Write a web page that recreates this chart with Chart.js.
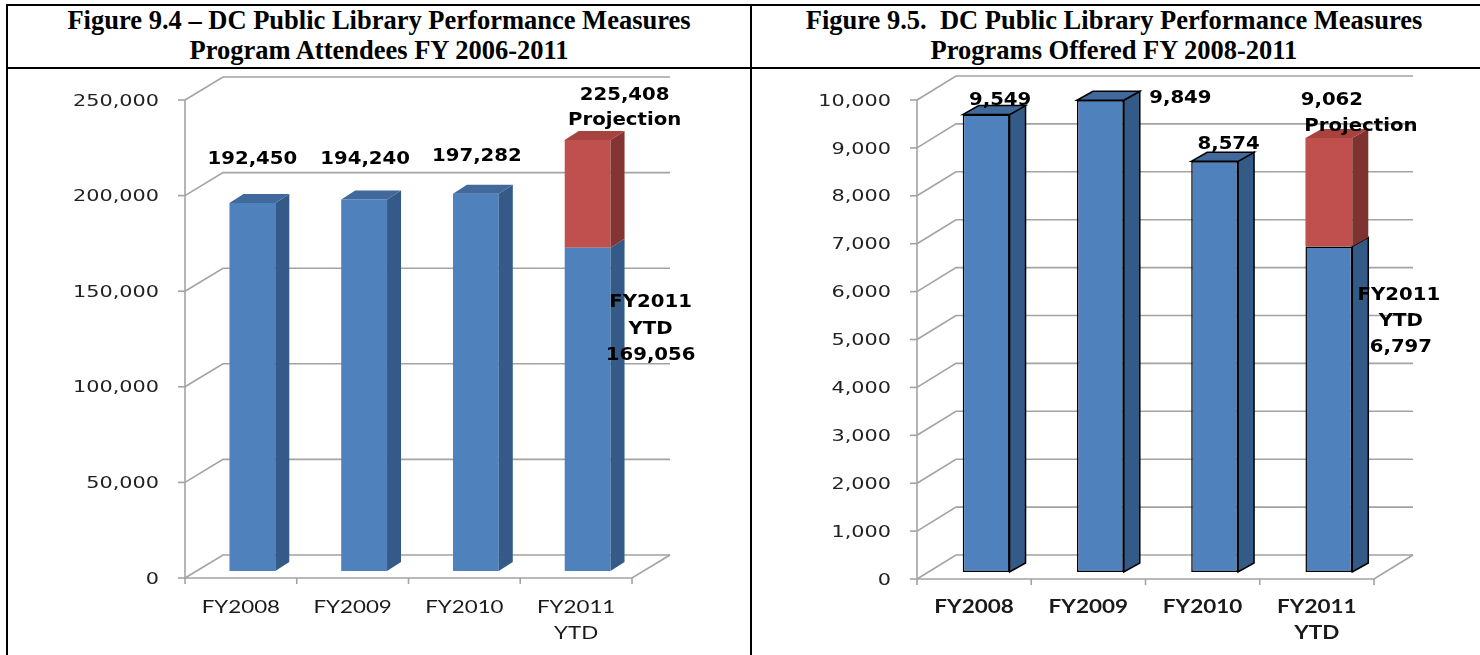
<!DOCTYPE html>
<html><head><meta charset="utf-8">
<script src="https://cdn.jsdelivr.net/npm/chart.js@4"></script>
<style>
html,body{margin:0;padding:0;background:#fff;width:1480px;height:655px;overflow:hidden;position:relative}
.ln{position:absolute;background:#000}
.title{position:absolute;top:5px;height:60px;font-family:'Liberation Serif','Times New Roman',serif;font-weight:bold;font-size:26.5px;line-height:30px;text-align:center;color:#000;white-space:nowrap}
canvas{position:absolute}
</style></head><body>
<div class="ln" style="left:6px;top:4px;width:1474px;height:2px"></div>
<div class="ln" style="left:6px;top:67px;width:1474px;height:2px"></div>
<div class="ln" style="left:6px;top:4px;width:2px;height:651px"></div>
<div class="ln" style="left:750px;top:4px;width:2px;height:651px"></div>
<div class="title" style="left:8px;width:742px">Figure 9.4 – DC Public Library Performance Measures<br>Program Attendees FY 2006-2011</div>
<div class="title" style="left:752px;width:724px">Figure 9.5.&nbsp; DC Public Library Performance Measures<br>Programs Offered FY 2008-2011</div>
<canvas id="c1" width="742" height="586" style="left:8px;top:69px"></canvas>
<canvas id="c2" width="728" height="586" style="left:752px;top:69px"></canvas>
<script>
// ---- data ----
const categories = [['FY2008'], ['FY2009'], ['FY2010'], ['FY2011', 'YTD']];
const attendeesActual = [192450, 194240, 197282, 169056];
const attendeesProjection = [null, null, null, 225408];
const attendeesTicks = [0, 50000, 100000, 150000, 200000, 250000];
const programsActual = [9549, 9849, 8574, 6797];
const programsProjection = [null, null, null, 9062];
const programsTicks = [0, 1000, 2000, 3000, 4000, 5000, 6000, 7000, 8000, 9000, 10000];
const projectionWord = 'Projection';

const fmt = v => v.toLocaleString('en-US');

function stretchText(ctx, s, x, y, font, sx, align, color) {
  ctx.save();
  ctx.translate(x, y);
  ctx.scale(sx, 1);
  ctx.font = font;
  ctx.textAlign = align;
  ctx.textBaseline = 'middle';
  ctx.fillStyle = color;
  ctx.fillText(s, 0, 0);
  ctx.restore();
}

function threeD(st) {
  return {
    id: 'threeD',
    beforeDatasetsDraw(chart) {
      const ctx = chart.ctx, xs = chart.scales.x, ys = chart.scales.y, a = chart.chartArea;
      const W = st.wall;
      ctx.save();
      ctx.strokeStyle = '#a3a3a3';
      ctx.lineWidth = 1.6;
      ctx.lineCap = 'butt';
      st.ticks.forEach(v => {
        const py = ys.getPixelForValue(v);
        ctx.beginPath();
        ctx.moveTo(a.left, py);
        ctx.lineTo(a.left + W.dx, py + W.dy);
        ctx.lineTo(a.right + W.dx, py + W.dy);
        ctx.stroke();
        ctx.beginPath();
        ctx.moveTo(a.left - 7, py);
        ctx.lineTo(a.left, py);
        ctx.stroke();
      });
      const yTop = ys.getPixelForValue(st.ticks[st.ticks.length - 1]);
      const y0 = ys.getPixelForValue(0);
      ctx.beginPath();
      ctx.moveTo(a.left, yTop);
      ctx.lineTo(a.left, y0);
      ctx.stroke();
      ctx.beginPath();
      ctx.moveTo(a.left, y0);
      ctx.lineTo(a.right, y0);
      ctx.lineTo(a.right + W.dx, y0 + W.dy);
      ctx.stroke();
      const n = chart.data.labels.length;
      const half = (xs.getPixelForValue(1) - xs.getPixelForValue(0)) / 2;
      for (let i = 0; i <= n; i++) {
        const px = i < n ? xs.getPixelForValue(i) - half : xs.getPixelForValue(n - 1) + half;
        ctx.beginPath();
        ctx.moveTo(px, y0);
        ctx.lineTo(px, y0 + 6);
        ctx.stroke();
      }
      ctx.restore();
      // y tick labels
      st.ticks.forEach(v => {
        stretchText(ctx, fmt(v), a.left - 26, ys.getPixelForValue(v) + 1.5, st.tickFont, st.tickSX, 'right', '#222');
      });
      // x labels
      chart.data.labels.forEach((lab, i) => {
        const px = xs.getPixelForValue(i);
        lab.forEach((s, j) => {
          stretchText(ctx, s, px, y0 + st.xLabelY + j * 26, st.xFont, st.xSX, 'center', '#1a1a1a');
        });
      });
      ctx.save();
      ctx.translate(st.barOff.dx, st.barOff.dy);
    },
    afterDatasetsDraw(chart) {
      const ctx = chart.ctx;
      const S = st.side;
      const metas = chart.data.datasets.map((d, k) => chart.getDatasetMeta(k));
      const n = chart.data.labels.length;
      for (let i = 0; i < n; i++) {
        let topMost = null;
        metas.forEach((m, k) => {
          const raw = chart.data.datasets[k].data[i];
          if (raw === null || raw === undefined) return;
          const el = m.data[i];
          const top = Math.min(el.y, el.base), bot = Math.max(el.y, el.base);
          const right = el.x + el.width / 2;
          ctx.beginPath();
          ctx.moveTo(right, top);
          ctx.lineTo(right + S.dx, top + S.dy);
          ctx.lineTo(right + S.dx, bot + S.dy);
          ctx.lineTo(right, bot);
          ctx.closePath();
          ctx.fillStyle = st.sideColors[k];
          ctx.fill();
          if (st.outline[k]) { ctx.strokeStyle = '#000'; ctx.lineWidth = 1.5; ctx.stroke(); }
          if (!topMost || top < topMost.top) topMost = {el, top, k};
        });
        if (topMost) {
          const el = topMost.el, top = topMost.top;
          const left = el.x - el.width / 2, right = el.x + el.width / 2;
          ctx.beginPath();
          ctx.moveTo(left, top);
          ctx.lineTo(left + S.dx, top + S.dy);
          ctx.lineTo(right + S.dx, top + S.dy);
          ctx.lineTo(right, top);
          ctx.closePath();
          ctx.fillStyle = st.topColors[topMost.k];
          ctx.fill();
          if (st.outline[topMost.k]) { ctx.strokeStyle = '#000'; ctx.lineWidth = 1.5; ctx.stroke(); }
        }
      }
      // data labels
      st.labels.forEach(L => {
        const el = metas[L.ds].data[L.i];
        const top = Math.min(el.y, el.base);
        L.lines.forEach((s, j) => {
          const o = L.off[j];
          stretchText(ctx, s, el.x + o[0], top + o[1] + 2.5, st.labelFont, st.labelSX, 'center', '#000');
        });
      });
      ctx.restore();
    }
  };
}

function build(id, actual, projection, ticks, padding, st) {
  st.ticks = ticks;
  return new Chart(document.getElementById(id), {
    type: 'bar',
    data: {
      labels: categories,
      datasets: [
        {
          data: actual,
          backgroundColor: '#4f81bd',
          borderColor: '#000',
          borderWidth: st.outline[0] ? 1.5 : 0,
          borderSkipped: false,
          grouped: false,
          barPercentage: 0.41,
          categoryPercentage: 1,
          clip: false
        },
        {
          data: projection.map((p, i) => p === null ? null : [actual[i], p]),
          backgroundColor: '#c0504d',
          borderWidth: 0,
          grouped: false,
          barPercentage: 0.41,
          categoryPercentage: 1,
          clip: false
        }
      ]
    },
    options: {
      responsive: false,
      animation: false,
      devicePixelRatio: 1,
      layout: {padding},
      plugins: {legend: {display: false}, tooltip: {enabled: false}},
      scales: {
        x: {display: false},
        y: {display: false, min: 0, max: ticks[ticks.length - 1]}
      }
    },
    plugins: [threeD(st)]
  });
}

const lastIdx = categories.length - 1;

build('c1', attendeesActual, attendeesProjection, attendeesTicks,
  {left: 177, right: 118, top: 31, bottom: 77},
  {
    wall: {dx: 38, dy: -23}, barOff: {dx: 11.5, dy: -7}, side: {dx: 14, dy: -9},
    sideColors: ['#345a88', '#843533'], topColors: ['#41699c', '#a7423f'], outline: [false, false],
    tickFont: '16px "DejaVu Sans"', tickSX: 1.3,
    xFont: '18px Lato', xSX: 1.24, xLabelY: 29,
    labelFont: 'bold 17px "DejaVu Sans"', labelSX: 1.16,
    labels: [
      {ds: 0, i: 0, lines: [fmt(attendeesActual[0])], off: [[0, -46]]},
      {ds: 0, i: 1, lines: [fmt(attendeesActual[1])], off: [[1, -43]]},
      {ds: 0, i: 2, lines: [fmt(attendeesActual[2])], off: [[1, -40]]},
      {ds: 1, i: lastIdx, lines: [fmt(attendeesProjection[lastIdx]), projectionWord], off: [[37, -47], [37, -22]]},
      {ds: 0, i: lastIdx, lines: [categories[lastIdx][0], categories[lastIdx][1], fmt(attendeesActual[lastIdx])], off: [[63, 52], [63, 79], [63, 105]]}
    ]
  });

build('c2', programsActual, programsProjection, programsTicks,
  {left: 165, right: 106, top: 31, bottom: 76},
  {
    wall: {dx: 39, dy: -24}, barOff: {dx: 12, dy: -7}, side: {dx: 16, dy: -9},
    sideColors: ['#345a88', '#7f3331'], topColors: ['#41699c', '#a7423f'], outline: [true, false],
    tickFont: '16px "DejaVu Sans"', tickSX: 1.3,
    xFont: 'bold 18px Lato', xSX: 1.25, xLabelY: 28,
    labelFont: 'bold 17px "DejaVu Sans"', labelSX: 1.16,
    labels: [
      {ds: 0, i: 0, lines: [fmt(programsActual[0])], off: [[14, -17]]},
      {ds: 0, i: 1, lines: [fmt(programsActual[1])], off: [[80, -4]]},
      {ds: 0, i: 2, lines: [fmt(programsActual[2])], off: [[14, -19]]},
      {ds: 1, i: lastIdx, lines: [fmt(programsProjection[lastIdx]), projectionWord], off: [[3, -40], [32, -14]]},
      {ds: 0, i: lastIdx, lines: [categories[lastIdx][0], categories[lastIdx][1], fmt(programsActual[lastIdx])], off: [[70, 47], [72, 73], [72, 99]]}
    ]
  });
</script>
</body></html>
